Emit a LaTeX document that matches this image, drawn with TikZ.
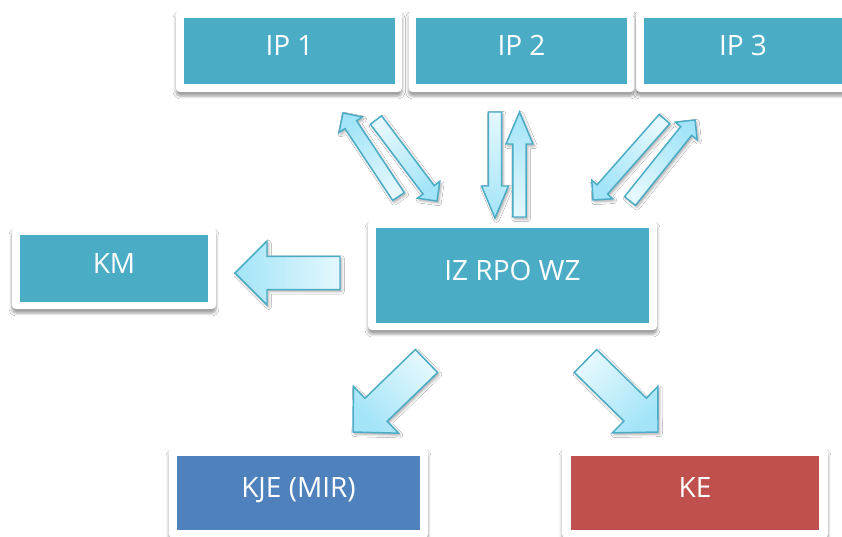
\documentclass[tikz,border=0pt]{standalone}
\usepackage{fontspec}
\setmainfont{Open Sans}
\usetikzlibrary{calc,shadows.blur}

\definecolor{aqua}{HTML}{4BACC6}
\definecolor{steel}{HTML}{4F81BD}
\definecolor{brick}{HTML}{C0504D}
\definecolor{arrowhead}{HTML}{A3E4F8}
\definecolor{arrowtail}{HTML}{E4F8FD}

\tikzset{
  frame/.style={fill=white, rounded corners=3pt, inner sep=0pt,
    blur shadow={shadow xshift=0pt, shadow yshift=-3pt,
      shadow blur radius=2.2pt, shadow opacity=40}},
  card/.style={fill=#1, text=white, inner sep=0pt,
    font=\fontsize{21}{24}\selectfont, text height=0.84em, text depth=0.16em},
  arrowbody/.style={top color=arrowhead, bottom color=arrowtail,
    draw=aqua, line width=1.1pt, line join=miter,
    blur shadow={shadow xshift=1.2pt, shadow yshift=-1.5pt,
      shadow blur radius=2pt, shadow opacity=35}},
}

% block arrow: tail, tip, shaft half width, head half width, head length, shading angle
\newcommand\blockarrow[6]{%
  \coordinate (ba-h) at ($(#2)!#5!(#1)$);
  \path[arrowbody, shading angle=#6]
    ($(#1)!#3!90:(#2)$) -- ($(ba-h)!#3!-90:(#1)$) -- ($(ba-h)!#4!-90:(#1)$) -- (#2)
    -- ($(ba-h)!#4!90:(#1)$) -- ($(ba-h)!#3!90:(#1)$) -- ($(#1)!#3!-90:(#2)$) -- cycle;}

\begin{document}
\begin{tikzpicture}[x=0.75pt,y=-0.75pt]
\useasboundingbox (0,0) rectangle (842,536);
\fill[white] (0,0) rectangle (842,536);

% white frames
\node[frame, minimum width=169.5pt, minimum height=61.5pt] (ip1f) at (289,51) {};
\node[frame, minimum width=169.5pt, minimum height=61.5pt] (ip2f) at (521.5,51) {};
\node[frame, minimum width=169.5pt, minimum height=61.5pt] (ip3f) at (749,51) {};
\node[frame, minimum width=153pt, minimum height=61.5pt] (kmf) at (114,268) {};
\node[frame, minimum width=216.75pt, minimum height=82.5pt] (izf) at (512.5,275) {};
\node[frame, minimum width=194.25pt, minimum height=67.5pt] (kjef) at (298.5,493) {};
\node[frame, minimum width=199.5pt, minimum height=67.5pt] (kef) at (695,493) {};

% coloured boxes
\node[card=aqua, minimum width=158.25pt, minimum height=49.5pt] (ip1) at (289.5,51) {IP 1};
\node[card=aqua, minimum width=158.25pt, minimum height=49.5pt] (ip2) at (521.5,51) {IP 2};
\node[card=aqua, minimum width=148.5pt, minimum height=49.5pt] (ip3) at (743,51) {IP 3};
\node[card=aqua, minimum width=141pt, minimum height=50.25pt] (km) at (114,268.5) {KM};
\node[card=aqua, minimum width=204.75pt, minimum height=71.25pt] (iz) at (512.5,275.5) {IZ RPO WZ};
\node[card=steel, minimum width=182.25pt, minimum height=55.5pt] (kje) at (298.5,493) {KJE (MIR)};
\node[card=brick, minimum width=186pt, minimum height=55.5pt] (ke) at (695,493) {KE};

% arrow end points
\coordinate (a1t) at (398.5,196.5); \coordinate (a1h) at (343,113);
\coordinate (a2t) at (376,120);     \coordinate (a2h) at (437,201);
\coordinate (a3t) at (495,112);     \coordinate (a3h) at (495,218);
\coordinate (a4t) at (519.5,217);   \coordinate (a4h) at (519.5,112);
\coordinate (a5t) at (664.5,119);   \coordinate (a5h) at (593,200);
\coordinate (a6t) at (630,201);     \coordinate (a6h) at (695,120);
\coordinate (a7t) at (340,273);     \coordinate (a7h) at (235,273);
\coordinate (a8t) at (426.5,361);   \coordinate (a8h) at (353,432);
\coordinate (a9t) at (585.5,361);   \coordinate (a9h) at (658,432);

% exchange with IP 1, IP 2, IP 3
\blockarrow{a1t}{a1h}{5.25pt}{10.5pt}{10.5pt}{33.6}
\blockarrow{a2t}{a2h}{5.25pt}{10.5pt}{10.5pt}{-143}
\blockarrow{a3t}{a3h}{4.9pt}{10.1pt}{24pt}{180}
\blockarrow{a4t}{a4h}{4.9pt}{10.1pt}{24pt}{0}
\blockarrow{a5t}{a5h}{5.25pt}{10.5pt}{10.5pt}{138.6}
\blockarrow{a6t}{a6h}{5.25pt}{10.5pt}{10.5pt}{-38.7}

% outputs of IZ RPO WZ
\blockarrow{a7t}{a7h}{12.4pt}{24pt}{24pt}{90}
\blockarrow{a8t}{a8h}{12pt}{24.4pt}{24pt}{134}
\blockarrow{a9t}{a9h}{12pt}{24.4pt}{24pt}{-134.4}
\end{tikzpicture}
\end{document}
